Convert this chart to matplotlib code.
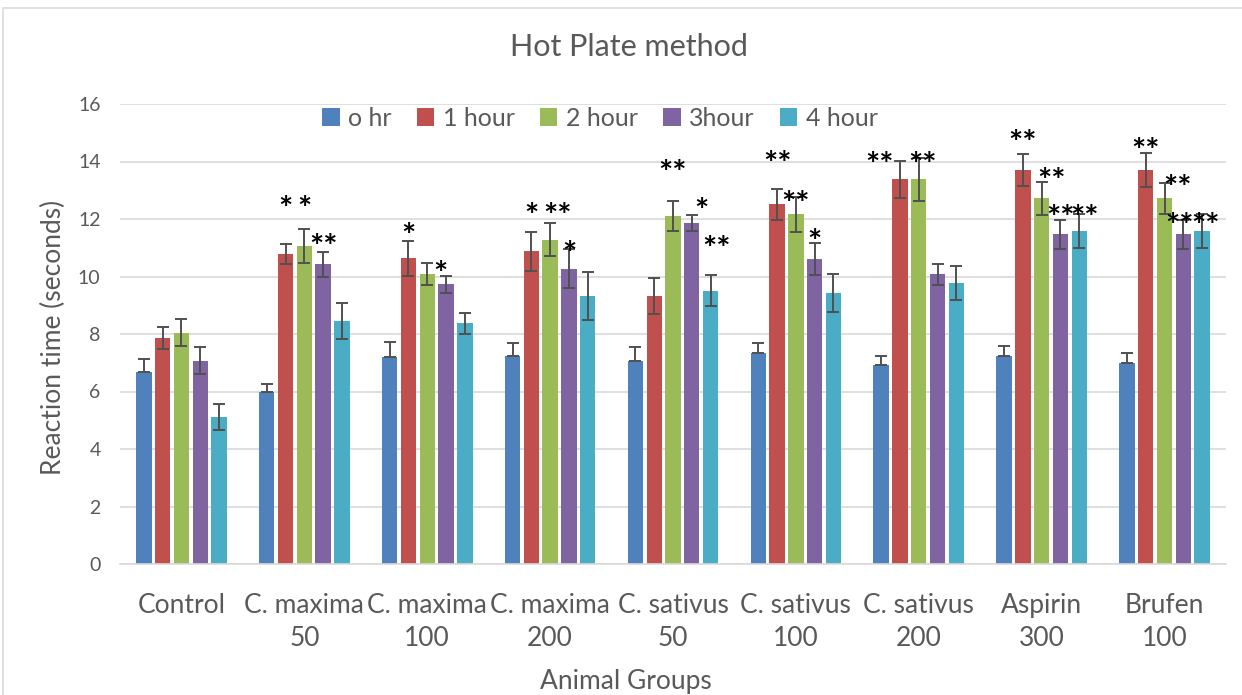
import numpy as np
import matplotlib
matplotlib.use("Agg")
import matplotlib.pyplot as plt
from matplotlib.patches import Rectangle

plt.rcParams['font.family'] = ['Lato', 'DejaVu Sans']

groups = ['Control', 'C. maxima\n50', 'C. maxima\n100', 'C. maxima\n200', 'C. sativus\n50',
          'C. sativus\n100', 'C. sativus\n200', 'Aspirin\n300', 'Brufen\n100']
series = ['o hr', '1 hour', '2 hour', '3hour', '4 hour']
colors = ['#4F81BD', '#C0504D', '#9BBB59', '#8064A2', '#4BACC6']

# mean reaction time (s) per series, one entry per group
hr0 = [6.69, 5.97, 7.19, 7.23, 7.07, 7.33, 6.91, 7.25, 7.00]
hr1 = [7.85, 10.78, 10.63, 10.88, 9.33, 12.51, 13.38, 13.70, 13.70]
hr2 = [8.05, 11.06, 10.08, 11.28, 12.11, 12.16, 13.38, 12.72, 12.72]
hr3 = [7.07, 10.42, 9.73, 10.27, 11.85, 10.61, 10.08, 11.47, 11.47]
hr4 = [5.12, 8.45, 8.37, 9.33, 9.51, 9.43, 9.76, 11.58, 11.58]

# standard error
err0 = [0.43, 0.29, 0.54, 0.46, 0.49, 0.37, 0.34, 0.34, 0.33]
err1 = [0.38, 0.35, 0.60, 0.68, 0.63, 0.53, 0.65, 0.56, 0.58]
err2 = [0.47, 0.58, 0.38, 0.57, 0.52, 0.60, 0.75, 0.57, 0.54]
err3 = [0.47, 0.42, 0.30, 0.68, 0.28, 0.57, 0.37, 0.50, 0.50]
err4 = [0.45, 0.64, 0.37, 0.83, 0.54, 0.66, 0.59, 0.58, 0.58]

# significance marks: group index, bar slot, text, height
star_group = [1, 1, 1, 2, 2, 3, 3, 3, 4, 4, 4, 5, 5, 5, 6, 6, 7, 7, 7, 7, 8, 8, 8, 8]
star_slot = [1, 2, 3, 1, 2.7, 1, 2.4, 3, 2, 3.5, 4.3, 1, 2, 3, -0.1, 2.2, 1, 2.5, 3.0, 4.3, 1, 2.7, 2.8, 4.2]
star_text = ['*', '*', '**', '*', '*', '*', '**', '*', '**', '*', '**', '**', '**', '*',
             '**', '**', '**', '**', '**', '**', '**', '**', '**', '**']
star_y = [12.63, 12.63, 11.30, 11.67, 10.34, 12.37, 12.37, 11.04, 13.88, 12.55, 11.21,
          14.17, 12.80, 11.48, 14.13, 14.13, 14.90, 13.59, 12.29, 12.29, 14.65, 13.33, 12.01, 12.01]

values = [hr0, hr1, hr2, hr3, hr4]
errors = [err0, err1, err2, err3, err4]

W, H = 1242, 695
fig = plt.figure(figsize=(W / 100, H / 100), dpi=100)
fig.patches.append(Rectangle((3 / W, -0.05), 1.1, 1 - 8 / H + 0.05, transform=fig.transFigure,
                             fill=False, edgecolor='#D9D9D9', linewidth=1.2))
ax = fig.add_axes([120 / W, (H - 564) / H, (1226 - 120) / W, (564 - 104) / H])

text_col = '#595959'
x = np.arange(len(groups))
pitch = 0.153
bw = 0.125
for k in range(5):
    pos = x + (k - 2) * pitch
    ax.bar(pos, values[k], bw, color=colors[k], label=series[k], zorder=2)
    if k == 0:
        yerr = [np.zeros(len(groups)), errors[k]]
    else:
        yerr = errors[k]
    ax.errorbar(pos, values[k], yerr=yerr, fmt='none', ecolor='#505050', elinewidth=1.4,
                capsize=4.5, capthick=1.4, zorder=3)

for g, s, t, yv in zip(star_group, star_slot, star_text, star_y):
    ax.text(g + (s - 2) * pitch, yv - 0.32, t, ha='center', va='center', fontsize=24,
            color='black', fontweight='bold', zorder=4)

ax.set_xlim(-0.5, len(groups) - 0.5)
ax.set_ylim(0, 16)
ax.set_yticks(np.arange(0, 17, 2))
ax.yaxis.grid(True, color='#D9D9D9', linewidth=1.2, zorder=0)
ax.set_axisbelow(True)
for side in ['top', 'right', 'left']:
    ax.spines[side].set_visible(False)
ax.spines['bottom'].set_color('#D9D9D9')
ax.spines['bottom'].set_linewidth(1.2)
ax.tick_params(axis='y', length=0, pad=14, labelsize=14, labelcolor=text_col)
ax.tick_params(axis='x', length=0, pad=21, labelsize=19, labelcolor=text_col)
ax.set_xticks(x)
ax.set_xticklabels(groups, linespacing=1.4)

fig.text(53 / W, 1 - 337 / H, 'Reaction time (seconds)', ha='center', va='center',
         rotation=90, fontsize=19, color=text_col)
fig.text(626 / W, 1 - 681 / H, 'Animal Groups', ha='center', va='center',
         fontsize=19, color=text_col)
fig.text(629 / W, 1 - 47 / H, 'Hot Plate method', ha='center', va='center',
         fontsize=22, color=text_col)

leg = ax.legend(loc='center', bbox_to_anchor=(600 / W, 1 - 118 / H), bbox_transform=fig.transFigure,
                ncol=5, frameon=False, fontsize=18, handlelength=0.7, handleheight=0.7,
                handletextpad=0.35, columnspacing=1.0, labelcolor=text_col)

fig.savefig('out.png', dpi=100)
